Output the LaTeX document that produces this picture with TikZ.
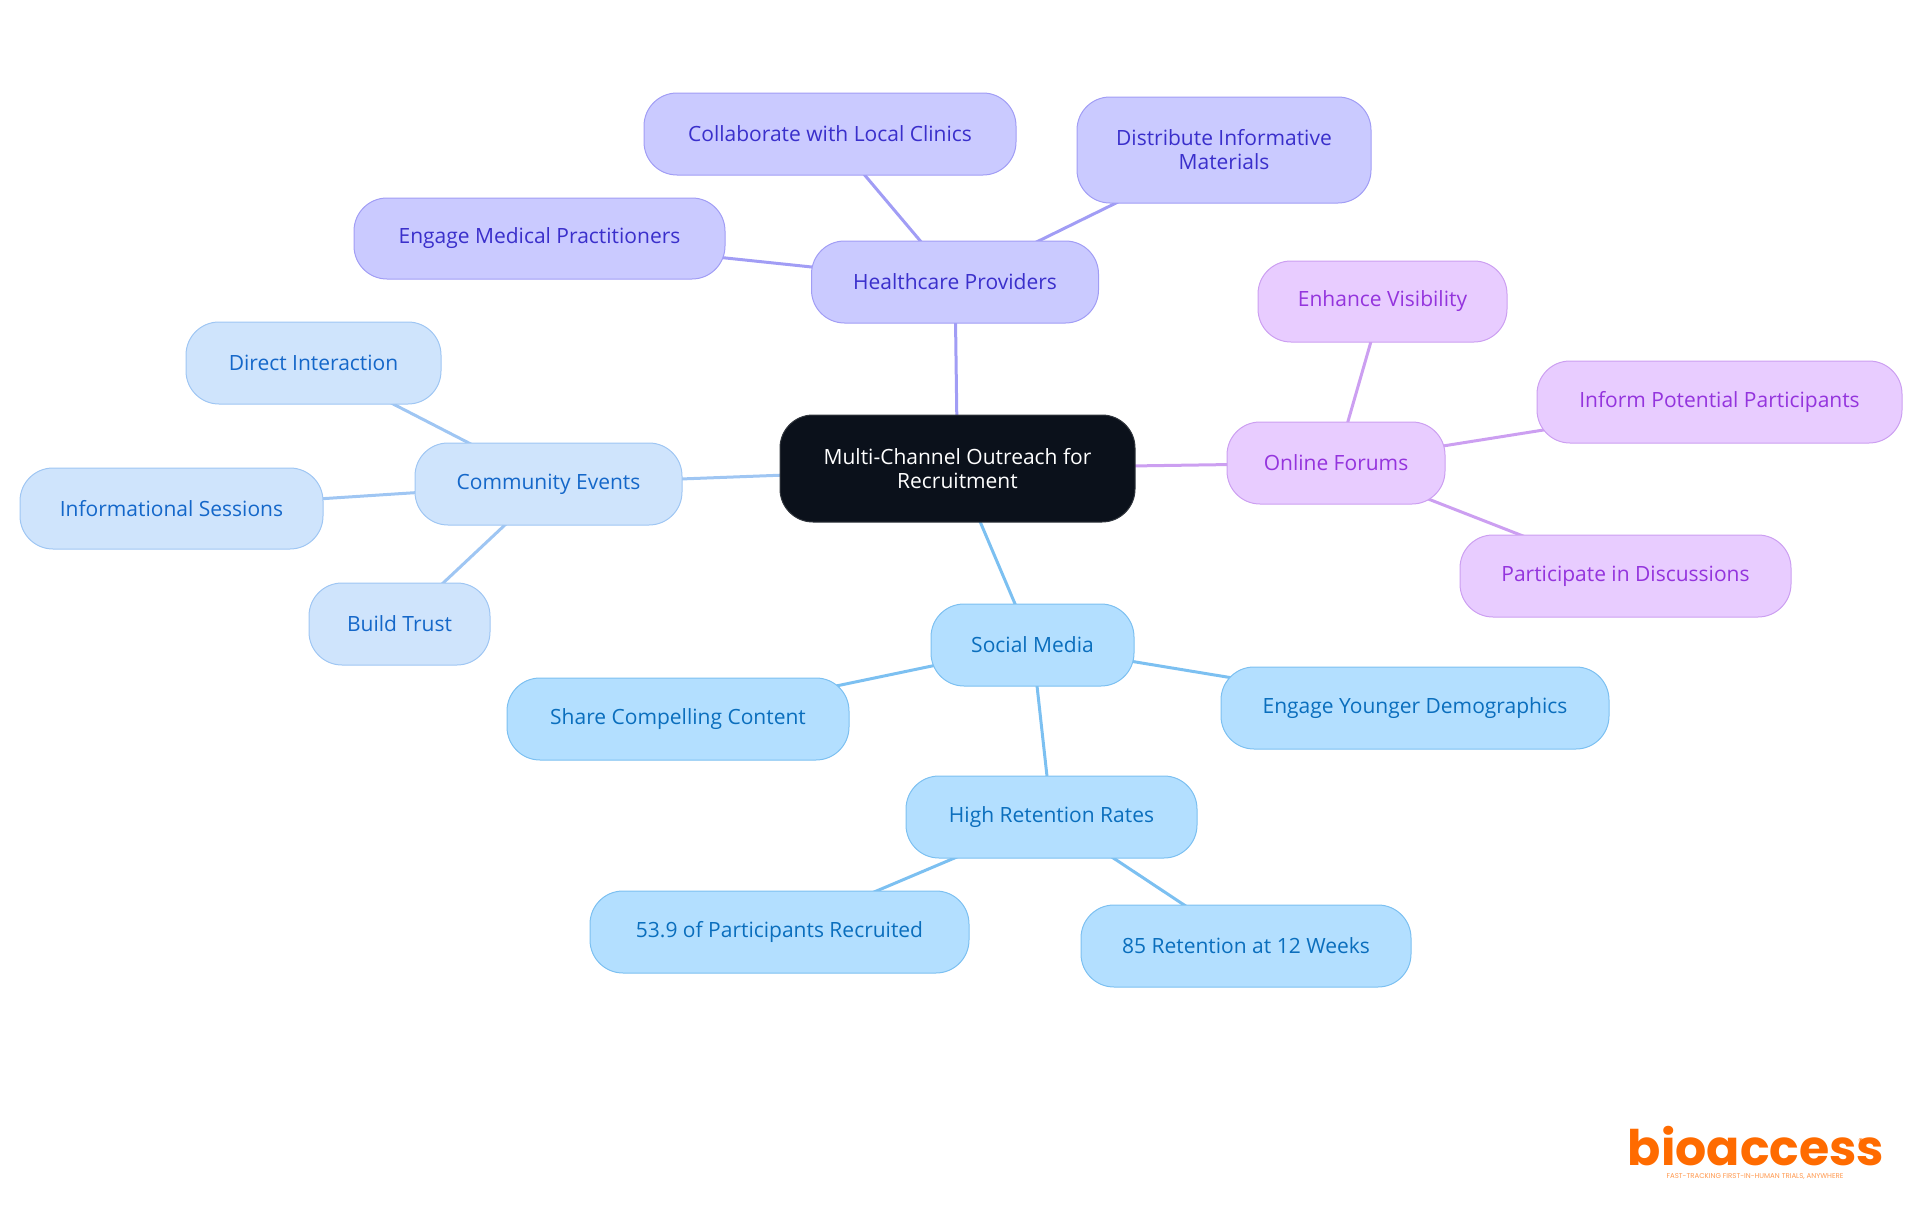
\documentclass[tikz,border=0pt]{standalone}
\usepackage{fontspec}
\setmainfont{Open Sans}
\newfontfamily\logofont{Poppins}
\usetikzlibrary{backgrounds}
\definecolor{rootFill}{HTML}{0B111B}
\definecolor{rootLine}{HTML}{30353C}
\definecolor{provFill}{HTML}{CACAFF}
\definecolor{provLine}{HTML}{A19DF5}
\definecolor{provText}{HTML}{3A2FCB}
\definecolor{commFill}{HTML}{CFE4FC}
\definecolor{commLine}{HTML}{9FC6F3}
\definecolor{commText}{HTML}{1467C9}
\definecolor{socFill}{HTML}{B3DFFF}
\definecolor{socLine}{HTML}{7CC0F1}
\definecolor{socText}{HTML}{0A6EBD}
\definecolor{forumFill}{HTML}{E8CCFF}
\definecolor{forumLine}{HTML}{CC9FF1}
\definecolor{forumText}{HTML}{9434DD}
\definecolor{logoOrange}{HTML}{FF6B00}
\begin{document}
\begin{tikzpicture}[
        x=1pt, y=-1pt,
        mapNode/.style={rectangle, rounded corners=33pt, line width=1pt, inner sep=0pt, align=center, font=\fontsize{21}{24}\selectfont},
        rootNode/.style={mapNode, draw=rootLine, fill=rootFill, text=white},
        provNode/.style={mapNode, draw=provLine, fill=provFill, text=provText},
        commNode/.style={mapNode, draw=commLine, fill=commFill, text=commText},
        socNode/.style={mapNode, draw=socLine, fill=socFill, text=socText},
        forumNode/.style={mapNode, draw=forumLine, fill=forumFill, text=forumText},
        edgeLine/.style={line width=3pt}
    ]
        \useasboundingbox (0,0) rectangle (1920,1215);

        % Root node
        \node[rootNode, minimum width=355, minimum height=107] (root) at (957.5,468.5) {Multi-Channel Outreach for\\Recruitment};

        % Healthcare branch
        \node[provNode, minimum width=287, minimum height=82] (prov) at (955,282) {Healthcare Providers};
        \node[provNode, minimum width=372, minimum height=82] (clinics) at (830,134) {Collaborate with Local Clinics};
        \node[provNode, minimum width=294, minimum height=106] (materials) at (1224,150) {Distribute Informative\\Materials};
        \node[provNode, minimum width=371, minimum height=81] (practitioners) at (539.5,238.5) {Engage Medical Practitioners};

        % Community branch
        \node[commNode, minimum width=267, minimum height=82] (community) at (548.5,484) {Community Events};
        \node[commNode, minimum width=255, minimum height=82] (direct) at (313.5,363) {Direct Interaction};
        \node[commNode, minimum width=303, minimum height=81] (sessions) at (171.5,508.5) {Informational Sessions};
        \node[commNode, minimum width=181, minimum height=82] (trust) at (399.5,624) {Build Trust};

        % Forum branch
        \node[forumNode, minimum width=218, minimum height=82] (forums) at (1336,463) {Online Forums};
        \node[forumNode, minimum width=249, minimum height=81] (visibility) at (1382.5,301.5) {Enhance Visibility};
        \node[forumNode, minimum width=365, minimum height=82] (inform) at (1719.5,402) {Inform Potential Participants};
        \node[forumNode, minimum width=331, minimum height=82] (discuss) at (1625.5,576) {Participate in Discussions};

        % Social branch
        \node[socNode, minimum width=203, minimum height=82] (social) at (1032.5,645) {Social Media};
        \node[socNode, minimum width=342, minimum height=82] (content) at (678,719) {Share Compelling Content};
        \node[socNode, minimum width=388, minimum height=82] (younger) at (1415,708) {Engage Younger Demographics};
        \node[socNode, minimum width=291, minimum height=82] (retention) at (1051.5,817) {High Retention Rates};
        \node[socNode, minimum width=379, minimum height=82] (recruited) at (779.5,932) {53.9 of Participants Recruited};
        \node[socNode, minimum width=330, minimum height=82] (weeks) at (1246,946) {85 Retention at 12 Weeks};

        % Logo
        \node[inner sep=0pt, text=logoOrange, font=\logofont\bfseries\fontsize{49}{49}\selectfont] (logo) at (1756,1146) {bioaccess};
        \node[inner sep=0pt, text=logoOrange, font=\logofont\fontsize{10}{10}\selectfont] (mark) at (1861,1142) {\textregistered};
        \node[inner sep=0pt, text=logoOrange!70, font=\logofont\fontsize{7}{7}\selectfont] (tagline) at (1755,1177) {FAST-TRACKING FIRST-IN-HUMAN TRIALS, ANYWHERE};

        % Edges
        \begin{scope}[on background layer]
            \draw[edgeLine, draw=provLine] (root.center) -- (prov.center);
            \draw[edgeLine, draw=provLine] (prov.center) -- (clinics.center);
            \draw[edgeLine, draw=provLine] (prov.center) -- (materials.center);
            \draw[edgeLine, draw=provLine] (prov.center) -- (practitioners.center);
            \draw[edgeLine, draw=commLine] (root.center) -- (community.center);
            \draw[edgeLine, draw=commLine] (community.center) -- (direct.center);
            \draw[edgeLine, draw=commLine] (community.center) -- (sessions.center);
            \draw[edgeLine, draw=commLine] (community.center) -- (trust.center);
            \draw[edgeLine, draw=forumLine] (root.center) -- (forums.center);
            \draw[edgeLine, draw=forumLine] (forums.center) -- (visibility.center);
            \draw[edgeLine, draw=forumLine] (forums.center) -- (inform.center);
            \draw[edgeLine, draw=forumLine] (forums.center) -- (discuss.center);
            \draw[edgeLine, draw=socLine] (root.center) -- (social.center);
            \draw[edgeLine, draw=socLine] (social.center) -- (content.center);
            \draw[edgeLine, draw=socLine] (social.center) -- (younger.center);
            \draw[edgeLine, draw=socLine] (social.center) -- (retention.center);
            \draw[edgeLine, draw=socLine] (retention.center) -- (recruited.center);
            \draw[edgeLine, draw=socLine] (retention.center) -- (weeks.center);
        \end{scope}
    \end{tikzpicture}
\end{document}
